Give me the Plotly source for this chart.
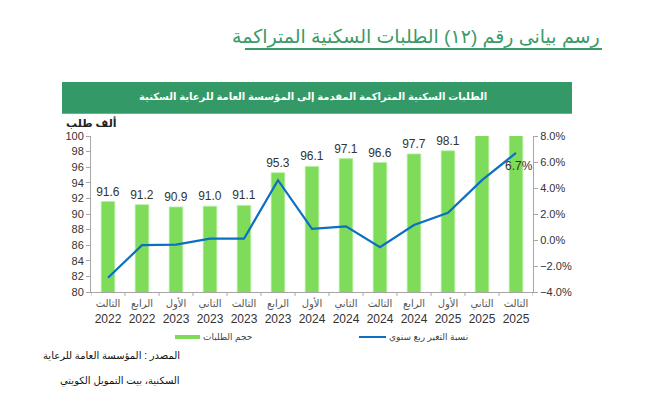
import plotly.graph_objects as go

quarters = ["الثالث", "الرابع", "الأول", "الثاني", "الثالث", "الرابع", "الأول",
            "الثاني", "الثالث", "الرابع", "الأول", "الثاني", "الثالث"]
years = ["2022", "2022", "2023", "2023", "2023", "2023", "2024",
         "2024", "2024", "2024", "2025", "2025", "2025"]
requests = [91.6, 91.2, 90.9, 91.0, 91.1, 95.3, 96.1, 97.1, 96.6, 97.7, 98.1, 101.6, 103.1]
bar_labels = ["91.6", "91.2", "90.9", "91.0", "91.1", "95.3", "96.1", "97.1", "96.6",
              "97.7", "98.1", "", ""]
growth = [-2.9, -0.4, -0.35, 0.1, 0.1, 4.6, 0.85, 1.05, -0.55, 1.15, 2.1, 4.6, 6.7]

cats = [f"<span style='font-size:10px;color:#555'>{q}</span><br>{y}" for q, y in zip(quarters, years)]
x = list(range(len(cats)))

FONT = "Liberation Sans, Arial, DejaVu Sans, sans-serif"
GREEN_BAR = "#7FDB5A"
BLUE = "#0B6FC4"
DARK_GREEN = "#339966"

# page body has an 8px margin; positions below are page pixels
OFF = 8
L, R, T, B = 91, 533, 136, 292
W, H = 660 - OFF, 399 - OFF

def px(xp):
    return (xp - L) / (R - L)

def py(yp):
    return (B - yp) / (B - T)

fig = go.Figure()
fig.add_trace(go.Bar(
    x=x, y=requests, text=bar_labels, textposition="outside", constraintext="none",
    textfont=dict(size=12, color="#333333", family=FONT),
    marker=dict(color=GREEN_BAR, line=dict(color="#B8EFA3", width=0.8)),
    width=0.4, cliponaxis=True, name="حجم الطلبات", showlegend=False,
))
fig.add_trace(go.Scatter(
    x=x, y=growth, yaxis="y2", mode="lines",
    line=dict(color=BLUE, width=2.2), name="نسبة التغير ربع سنوي", showlegend=False,
))

fig.add_annotation(x=x[-1], y=growth[-1], yref="y2", text="6.7%", showarrow=False,
                   xshift=3, yshift=-13, font=dict(size=12, color="#333333", family=FONT))

fig.update_layout(
    width=W, height=H,
    margin=dict(l=L - OFF, r=W - (R - OFF), t=T - OFF, b=H - (B - OFF), autoexpand=False),
    paper_bgcolor="white", plot_bgcolor="white",
    font=dict(family=FONT, size=11, color="#333333"),
    xaxis=dict(
        tickmode="array", tickvals=x, ticktext=cats, range=[-0.5, len(x) - 0.5],
        showline=True, linecolor="#A6A6A6", linewidth=1,
        ticks="", showgrid=False, zeroline=False,
        tickfont=dict(size=12, color="#333333"),
    ),
    yaxis=dict(
        range=[80, 100], dtick=2, showline=True, linecolor="#A6A6A6",
        ticks="outside", ticklen=4, tickcolor="#A6A6A6",
        showgrid=False, zeroline=False, tickfont=dict(size=11, color="#333333"),
    ),
    yaxis2=dict(
        range=[-4, 8], dtick=2, overlaying="y", side="right",
        showline=True, linecolor="#A6A6A6", ticks="outside", ticklen=4,
        tickcolor="#A6A6A6", showgrid=False, zeroline=False,
        tickformat=".1f", ticksuffix="%", tickfont=dict(size=11, color="#333333"),
    ),
)

# tick marks between categories on x axis
for i in range(len(x) + 1):
    fig.add_shape(type="line", xref="x", yref="paper", x0=i - 0.5, x1=i - 0.5,
                  y0=0, y1=-0.025, line=dict(color="#A6A6A6", width=1))

# Title with underline
fig.add_annotation(xref="paper", yref="paper", x=px(602), y=py(37),
                   xanchor="right", yanchor="middle", showarrow=False,
                   text="رسم بيانى رقم (١٢) الطلبات السكنية المتراكمة",
                   font=dict(size=19, color="#3A9A68", family=FONT))
fig.add_shape(type="line", xref="paper", yref="paper", x0=px(245), x1=px(602),
              y0=py(49), y1=py(49), line=dict(color="#3A9A68", width=2))

# Green banner
fig.add_shape(type="rect", xref="paper", yref="paper", x0=px(62), x1=px(572),
              y0=py(114), y1=py(82), fillcolor=DARK_GREEN, line=dict(width=0), layer="below")
fig.add_shape(type="line", xref="paper", yref="paper", x0=px(62), x1=px(572),
              y0=py(113.5), y1=py(113.5), line=dict(color="#5DBB88", width=1))
fig.add_annotation(xref="paper", yref="paper", x=px(313), y=py(97),
                   showarrow=False, xanchor="center", yanchor="middle",
                   text="<b>الطلبات السكنية المتراكمة المقدمة إلى المؤسسة العامة للرعاية السكنية</b>",
                   font=dict(size=10, color="white", family=FONT))

# unit label
fig.add_annotation(xref="paper", yref="paper", x=px(119), y=py(122),
                   showarrow=False, xanchor="right", yanchor="middle",
                   text="<b>ألف طلب</b>", font=dict(size=11, color="#222222", family=FONT))

# legend (manual)
fig.add_shape(type="rect", xref="paper", yref="paper", x0=px(175), x1=px(200),
              y0=py(339), y1=py(335), fillcolor=GREEN_BAR, line=dict(width=0))
fig.add_annotation(xref="paper", yref="paper", x=px(201), y=py(337), showarrow=False,
                   xanchor="left", yanchor="middle", text="حجم الطلبات",
                   font=dict(size=9, color="#444444", family=FONT))
fig.add_shape(type="line", xref="paper", yref="paper", x0=px(359), x1=px(386),
              y0=py(337), y1=py(337), line=dict(color=BLUE, width=2))
fig.add_annotation(xref="paper", yref="paper", x=px(387), y=py(337), showarrow=False,
                   xanchor="left", yanchor="middle", text="نسبة التغير ربع سنوي",
                   font=dict(size=9, color="#444444", family=FONT))

# source
fig.add_annotation(xref="paper", yref="paper", x=px(182), y=py(355), showarrow=False,
                   xanchor="right", yanchor="middle", text="المصدر : المؤسسة العامة للرعاية",
                   font=dict(size=10, color="#111111", family=FONT))
fig.add_annotation(xref="paper", yref="paper", x=px(182), y=py(381), showarrow=False,
                   xanchor="right", yanchor="middle", text="السكنية، بيت التمويل الكويتي",
                   font=dict(size=10, color="#111111", family=FONT))

fig.write_html("out.html")
